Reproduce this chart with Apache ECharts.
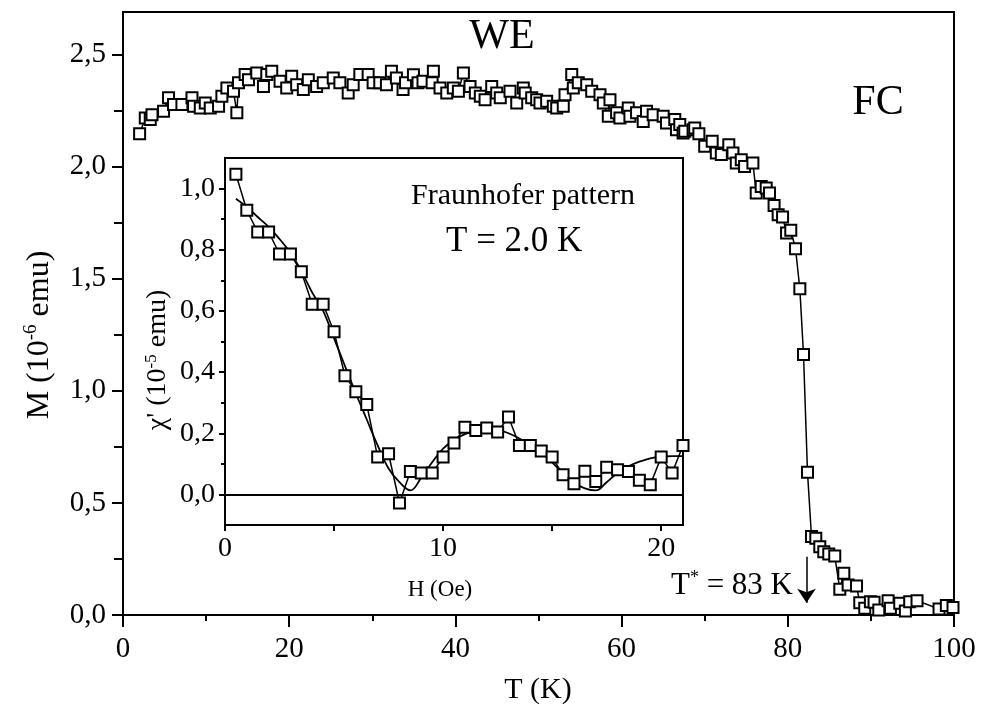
<!DOCTYPE html>
<html>
<head>
<meta charset="utf-8">
<script src="https://cdn.jsdelivr.net/npm/echarts@6/dist/echarts.min.js"></script>
<style>html,body{margin:0;padding:0;background:#fff}#c{width:986px;height:712px}</style>
</head>
<body>
<div id="c"></div>
<script>
// ---- main panel: FC magnetization vs temperature ----
const mainT = [2.0,2.68,3.28,3.49,4.88,5.48,6.08,7.09,8.3,8.49,9.3,9.9,10.5,11.5,11.9,12.5,13.3,13.7,13.9,14.7,15.1,16.1,16.9,17.3,17.9,18.9,19.7,20.3,20.9,21.7,22.3,23.3,24.1,25.3,26.1,27.1,27.7,28.5,29.5,30.1,30.9,31.7,32.3,32.9,33.7,
34.0,34.95,35.5,36.1,37.2,37.35,38.15,38.96,39.75,40.36,40.96,41.76,42.4,43.0,43.57,44.37,44.97,45.4,46.57,47.38,48.17,48.4,49.18,49.78,50.18,50.98,51.78,52.19,52.98,53.19,54.0,54.19,54.79,55.8,56.4,57.4,57.8,58.4,58.6,59.4,59.8,60.8,61.0,61.8,62.6,63.0,63.8,65.0,65.4,66.4,66.6,67.0,67.4,67.6,68.6,68.8,69.3,70.0,70.9,71.4,72.0,72.9,73.4,73.8,74.4,74.8,75.8,76.2,76.8,77.4,77.8,78.35,78.84,79.37,79.85,80.36,80.93,81.45,81.89,82.37,82.85,83.37,83.85,84.33,84.93,85.65,86.26,86.74,87.26,88.27,88.66,89.26,89.94,90.38,90.95,92.07,92.35,93.47,94.15,94.67,95.55,98.2,99.08,99.88];
const mainM = [2.147,2.217,2.21,2.232,2.247,2.307,2.277,2.277,2.307,2.269,2.262,2.284,2.262,2.269,2.314,2.351,2.336,2.240,2.374,2.411,2.388,2.418,2.358,2.411,2.426,2.381,2.351,2.403,2.366,2.344,2.388,2.358,2.374,2.396,2.374,2.329,2.366,2.411,2.411,2.374,2.374,2.366,2.426,2.396,2.344,
2.374,2.41,2.374,2.381,2.374,2.426,2.351,2.329,2.351,2.336,2.418,2.358,2.329,2.314,2.299,2.358,2.329,2.307,2.336,2.284,2.351,2.329,2.307,2.299,2.284,2.292,2.269,2.262,2.269,2.321,2.411,2.351,2.374,2.366,2.336,2.321,2.284,2.225,2.299,2.240,2.217,2.262,2.225,2.240,2.202,2.247,2.232,2.225,2.195,2.21,2.165,2.188,2.150,2.158,2.165,2.173,2.147,2.091,2.113,2.061,2.054,2.098,2.061,2.016,2.031,2.001,2.016,1.883,1.912,1.905,1.883,1.827,1.786,1.775,1.704,1.716,1.634,1.455,1.162,0.637,0.350,0.342,0.305,0.282,0.272,0.263,0.115,0.186,0.134,0.129,0.055,0.030,0.059,0.057,0.022,0.064,0.030,0.052,0.018,0.059,0.064,0.027,0.042,0.033];

const mainXTicks = [0,20,40,60,80,100];
const mainXMinor = [10,30,50,70,90];
const mainYTicks = [0,0.5,1.0,1.5,2.0,2.5];
const mainYMinor = [0.25,0.75,1.25,1.75,2.25];

// T* arrow annotation (T, M)
const arrowT = 82.25;
const arrowFrom = 0.26;
const arrowTo = 0.055;

// ---- inset: Fraunhofer pattern chi'(H) at T = 2.0 K ----
const insetH = [0.5,1.0,1.5,2.0,2.5,3.0,3.5,4.0,4.5,5.0,5.5,6.0,6.5,7.0,7.5,8.0,8.5,9.0,9.5,10.0,10.5,11.0,11.5,12.0,12.5,13.0,13.5,14.0,14.5,15.0,15.5,16.0,16.5,17.0,17.5,18.0,18.5,19.0,19.5,20.0,20.5,21.0];
const insetChi = [1.047,0.929,0.858,0.858,0.786,0.786,0.728,0.622,0.622,0.532,0.388,0.336,0.294,0.122,0.133,-0.028,0.075,0.070,0.070,0.122,0.168,0.220,0.209,0.217,0.204,0.253,0.160,0.160,0.142,0.122,0.064,0.035,0.076,0.042,0.089,0.081,0.075,0.046,0.032,0.122,0.070,0.160];
const fitH = [0.5,1.0,1.5,2.0,2.5,3.0,3.5,4.0,4.5,5.0,5.5,6.0,6.5,7.0,7.5,8.0,8.5,9.0,9.5,10.0,10.5,11.0,11.5,12.0,12.5,13.0,13.5,14.0,14.5,15.0,15.5,16.0,16.5,17.0,17.5,18.0,18.5,19.0,19.5,20.0,20.5,21.0];
const fitChi = [0.967,0.94,0.907,0.875,0.835,0.79,0.73,0.66,0.60,0.51,0.42,0.33,0.245,0.16,0.085,0.04,0.013,0.055,0.105,0.15,0.178,0.197,0.208,0.215,0.212,0.20,0.183,0.16,0.135,0.105,0.068,0.038,0.02,0.013,0.04,0.07,0.092,0.107,0.118,0.124,0.125,0.125];

const insetXTicks = [0,5,10,15,20];
const insetXLabels = [0,10,20];
const insetYTicks = [0,0.2,0.4,0.6,0.8,1.0];
const insetYMinor = [0.1,0.3,0.5,0.7,0.9];

const FONT = "'Liberation Serif','Times New Roman',serif";
const comma = v => (Math.round(v*10)/10).toFixed(1).replace('.', ',');

const chart = echarts.init(document.getElementById('c'), null, {renderer: 'canvas'});

const axLine = {show: true, onZero: false, lineStyle: {color: '#000', width: 2}};
const noLine = {show: false, onZero: false};

const option = {
  backgroundColor: '#fff',
  animation: false,
  grid: [
    {left: 123, right: 32, top: 12, bottom: 97, show: true, borderColor: '#000', borderWidth: 2, backgroundColor: 'transparent'},
    {left: 225, right: 303, top: 158, bottom: 187, show: true, borderColor: '#000', borderWidth: 2, backgroundColor: '#fff', z: 5}
  ],
  xAxis: [
    {type: 'value', gridIndex: 0, position: 'bottom', min: 0, max: 100, axisLine: axLine,
     axisTick: {show: true, length: 12, lineStyle: {color: '#000', width: 2}, customValues: mainXTicks},
     axisLabel: {show: true, customValues: mainXTicks, color: '#000', fontFamily: FONT, fontSize: 29, margin: 20},
     splitLine: {show: false}},
    {type: 'value', gridIndex: 0, position: 'bottom', min: 0, max: 100, axisLine: noLine,
     axisTick: {show: true, length: 6, lineStyle: {color: '#000', width: 2}, customValues: mainXMinor},
     axisLabel: {show: false}, splitLine: {show: false}},
    {type: 'value', gridIndex: 1, position: 'bottom', min: 0, max: 21, axisLine: axLine, z: 6,
     axisTick: {show: true, length: 6, lineStyle: {color: '#000', width: 2}, customValues: insetXTicks},
     axisLabel: {show: true, customValues: insetXLabels, color: '#000', fontFamily: FONT, fontSize: 28, margin: 10},
     splitLine: {show: false}}
  ],
  yAxis: [
    {type: 'value', gridIndex: 0, position: 'left', min: 0, max: 2.69, axisLine: axLine,
     axisTick: {show: true, length: 11, lineStyle: {color: '#000', width: 2}, customValues: mainYTicks},
     axisLabel: {show: true, customValues: mainYTicks, color: '#000', fontFamily: FONT, fontSize: 29, margin: 17, formatter: comma},
     splitLine: {show: false}},
    {type: 'value', gridIndex: 0, position: 'left', min: 0, max: 2.69, axisLine: noLine,
     axisTick: {show: true, length: 9, lineStyle: {color: '#000', width: 2}, customValues: mainYMinor},
     axisLabel: {show: false}, splitLine: {show: false}},
    {type: 'value', gridIndex: 1, position: 'left', min: -0.1, max: 1.1, axisLine: axLine, z: 6,
     axisTick: {show: true, length: 6, lineStyle: {color: '#000', width: 2}, customValues: insetYTicks},
     axisLabel: {show: true, customValues: insetYTicks, color: '#000', fontFamily: FONT, fontSize: 28, margin: 10, formatter: comma},
     splitLine: {show: false}},
    {type: 'value', gridIndex: 1, position: 'left', min: -0.1, max: 1.1, axisLine: noLine, z: 6,
     axisTick: {show: true, length: 4, lineStyle: {color: '#000', width: 2}, customValues: insetYMinor},
     axisLabel: {show: false}, splitLine: {show: false}}
  ],
  series: [
    {type: 'line', xAxisIndex: 0, yAxisIndex: 0, data: mainT.map((t, i) => [t, mainM[i]]),
     symbol: 'rect', symbolSize: 11, showAllSymbol: true,
     itemStyle: {color: '#fff', borderColor: '#000', borderWidth: 2},
     lineStyle: {color: '#000', width: 1.5},
     markLine: {silent: true, symbol: ['none', 'arrow'], symbolSize: 14, label: {show: false},
       itemStyle: {color: '#000'},
       lineStyle: {color: '#000', width: 1.5, type: 'solid'},
       data: [[{coord: [arrowT, arrowFrom], itemStyle: {color: '#000'}}, {coord: [arrowT, arrowTo], itemStyle: {color: '#000'}}]]}
    },
    {type: 'line', xAxisIndex: 2, yAxisIndex: 2, data: fitH.map((h, i) => [h, fitChi[i]]), z: 7,
     symbol: 'none', smooth: 0.4, lineStyle: {color: '#000', width: 1.8},
     markLine: {silent: true, symbol: ['none', 'none'], label: {show: false},
       lineStyle: {color: '#000', width: 1.8, type: 'solid'}, data: [{yAxis: 0}]}
    },
    {type: 'line', xAxisIndex: 2, yAxisIndex: 2, data: insetH.map((h, i) => [h, insetChi[i]]), z: 8,
     symbol: 'rect', symbolSize: 11, showAllSymbol: true,
     itemStyle: {color: '#fff', borderColor: '#000', borderWidth: 2},
     lineStyle: {color: '#000', width: 1.5}
    }
  ],
  graphic: [
    {type: 'text', x: 502, y: 37, z: 100, style: {text: 'WE', font: "42px " + FONT, fill: '#000', align: 'center', verticalAlign: 'middle'}},
    {type: 'text', x: 878, y: 103, z: 100, style: {text: 'FC', font: "42px " + FONT, fill: '#000', align: 'center', verticalAlign: 'middle'}},
    {type: 'text', x: 523, y: 196, z: 100, style: {text: 'Fraunhofer pattern', font: "30px " + FONT, fill: '#000', align: 'center', verticalAlign: 'middle'}},
    {type: 'text', x: 446, y: 242, z: 100, style: {text: 'T = 2.0 K', font: "35px " + FONT, fill: '#000', align: 'left', verticalAlign: 'middle'}},
    {type: 'text', x: 538, y: 690, z: 100, style: {text: 'T (K)', font: "30px " + FONT, fill: '#000', align: 'center', verticalAlign: 'middle'}},
    {type: 'text', x: 440, y: 590, z: 100, style: {text: 'H (Oe)', font: "23px " + FONT, fill: '#000', align: 'center', verticalAlign: 'middle'}},
    {type: 'text', x: 40, y: 335, rotation: Math.PI / 2, z: 100,
     style: {text: '{n|M (10}{s|-6}{n| emu)}', align: 'center', verticalAlign: 'middle', fill: '#000',
       rich: {n: {fontFamily: FONT, fontSize: 32, lineHeight: 36, fill: '#000'}, s: {fontFamily: FONT, fontSize: 19, lineHeight: 20, verticalAlign: 'top', fill: '#000'}}}},
    {type: 'text', x: 158, y: 360, rotation: Math.PI / 2, z: 100,
     style: {text: '{n|\u03C7\' (10}{s|-5}{n| emu)}', align: 'center', verticalAlign: 'middle', fill: '#000',
       rich: {n: {fontFamily: FONT, fontSize: 28, lineHeight: 30, fill: '#000'}, s: {fontFamily: FONT, fontSize: 17, lineHeight: 17, verticalAlign: 'top', fill: '#000'}}}},
    {type: 'text', x: 793, y: 586, z: 100,
     style: {text: '{n|T}{s|*}{n| = 83 K}', align: 'right', verticalAlign: 'middle', fill: '#000',
       rich: {n: {fontFamily: FONT, fontSize: 31, lineHeight: 34, fill: '#000'}, s: {fontFamily: FONT, fontSize: 18, lineHeight: 18, verticalAlign: 'top', fill: '#000'}}}}
  ]
};
chart.setOption(option);
</script>
</body>
</html>
